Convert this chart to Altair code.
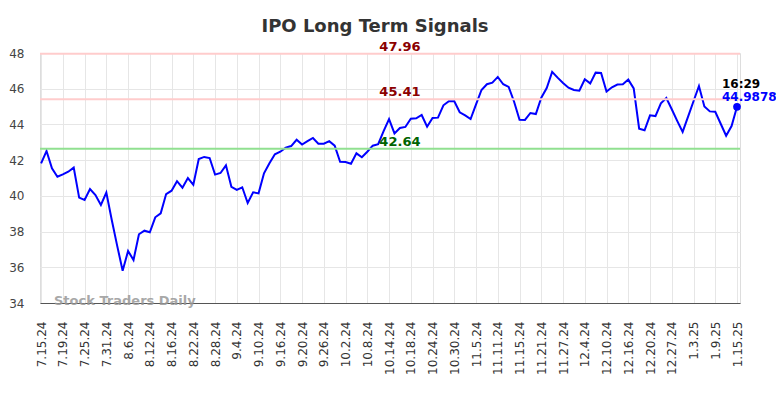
import altair as alt
import pandas as pd

date_labels = ["7.15.24", "7.19.24", "7.25.24", "7.31.24", "8.6.24", "8.12.24", "8.16.24",
               "8.22.24", "8.28.24", "9.4.24", "9.10.24", "9.16.24", "9.20.24", "9.26.24",
               "10.2.24", "10.8.24", "10.14.24", "10.18.24", "10.24.24", "10.30.24", "11.5.24",
               "11.11.24", "11.15.24", "11.21.24", "11.27.24", "12.4.24", "12.10.24", "12.16.24",
               "12.20.24", "12.27.24", "1.3.25", "1.9.25", "1.15.25"]

prices = [41.82, 42.51, 41.54, 41.07, 41.20, 41.35, 41.58, 39.90, 39.77, 40.38,
          40.05, 39.49, 40.18, 38.65, 37.20, 35.81, 36.91, 36.41, 37.85, 38.05,
          37.96, 38.80, 39.02, 40.10, 40.29, 40.82, 40.46, 41.00, 40.62, 42.06,
          42.18, 42.12, 41.19, 41.28, 41.71, 40.51, 40.33, 40.48, 39.60, 40.20,
          40.14, 41.26, 41.82, 42.33, 42.47, 42.70, 42.79, 43.14, 42.87, 43.06,
          43.24, 42.92, 42.92, 43.06, 42.81, 41.91, 41.90, 41.80, 42.38, 42.16,
          42.47, 42.81, 42.89, 43.62, 44.30, 43.50, 43.80, 43.86, 44.32, 44.34,
          44.53, 43.87, 44.36, 44.38, 45.07, 45.30, 45.30, 44.68, 44.51, 44.30,
          45.12, 45.93, 46.25, 46.34, 46.66, 46.25, 46.10, 45.27, 44.26, 44.25,
          44.64, 44.58, 45.50, 46.04, 46.94, 46.62, 46.32, 46.06, 45.93, 45.89,
          46.53, 46.30, 46.90, 46.88, 45.84, 46.08, 46.23, 46.25, 46.51, 46.02,
          43.76, 43.67, 44.51, 44.47, 45.18, 45.48, 44.85, 44.20, 43.58, 44.44,
          45.30, 46.15, 45.01, 44.73, 44.71, 44.04, 43.37, 43.91, 44.9878]

signal_values = [47.96, 45.41, 42.64]
signal_labels = ["47.96", "45.41", "42.64"]
signal_line_colors = ["#ffcccc", "#ffcccc", "#90e090"]
signal_text_colors = ["#8b0000", "#8b0000", "#006400"]

last_time = "16:29"
last_label = "44.9878"

FONT = "DejaVu Sans"

df = pd.DataFrame({"i": list(range(len(prices))), "price": prices})
sig = pd.DataFrame({"v": signal_values, "label": signal_labels,
                    "lc": signal_line_colors, "tc": signal_text_colors,
                    "xi": [66] * len(signal_values)})
last = df.tail(1).assign(t=last_time, lab=last_label)

label_arr = "[" + ",".join("'" + d + "'" for d in date_labels) + "]"
tick_vals = [4 * k for k in range(len(date_labels))]

x_scale = alt.Scale(domain=[-0.2, 128.55], nice=False, zero=False)
y_scale = alt.Scale(domain=[34, 48], nice=False, zero=False)

x_axis = alt.Axis(values=tick_vals, labelExpr=label_arr + "[round(datum.value/4)]",
                  labelAngle=-90, labelFont=FONT, labelFontSize=12, labelColor="#333",
                  ticks=False, tickSize=0, labelPadding=18, grid=True, gridColor="#e6e6e6",
                  domain=True, domainColor="#555", domainWidth=1.2, title=None,
                  labelOverlap=False)
y_axis = alt.Axis(values=[34, 36, 38, 40, 42, 44, 46, 48], labelFont=FONT, labelFontSize=12,
                  labelColor="#444", ticks=False, tickSize=0, labelPadding=16, grid=True,
                  gridColor="#e6e6e6", domain=False, title=None, labelOverlap=False)

X = lambda f: alt.X(f, scale=x_scale, axis=x_axis)
Y = lambda f: alt.Y(f, scale=y_scale, axis=y_axis)

base = alt.Chart(df)

rules = alt.Chart(sig).mark_rule(strokeWidth=2).encode(
    y=Y("v:Q"),
    color=alt.Color("lc:N", scale=None),
)

sig_text = alt.Chart(sig).mark_text(font=FONT, fontSize=13, fontWeight="bold",
                                    align="center", baseline="alphabetic", dy=-3).encode(
    x=X("xi:Q"),
    y=Y("v:Q"),
    text="label:N",
    color=alt.Color("tc:N", scale=None),
)

line = base.mark_line(color="#0000ff", strokeWidth=2).encode(
    x=X("i:Q"),
    y=Y("price:Q"),
)

dot = alt.Chart(last).mark_circle(color="#0000ff", size=60, opacity=1).encode(
    x=X("i:Q"),
    y=Y("price:Q"),
)

t_time = alt.Chart(last).mark_text(font=FONT, fontSize=12, fontWeight="bold", color="#000",
                                   align="left", baseline="alphabetic", dx=-15, dy=-19).encode(
    x=X("i:Q"),
    y=Y("price:Q"),
    text="t:N",
)
t_val = alt.Chart(last).mark_text(font=FONT, fontSize=12, fontWeight="bold", color="#0000ff",
                                  align="left", baseline="alphabetic", dx=-15, dy=-6).encode(
    x=X("i:Q"),
    y=Y("price:Q"),
    text="lab:N",
)

watermark = alt.Chart(pd.DataFrame({"w": ["Stock Traders Daily"]})).mark_text(
    font=FONT, fontSize=13, fontWeight="bold", color="#999999", opacity=0.85,
    align="left", baseline="alphabetic").encode(
    x=alt.value(14), y=alt.value(252), text="w:N")

chart = alt.layer(line, rules, sig_text, dot, t_time, t_val, watermark).properties(
    width=700, height=250,
    title=alt.TitleParams("IPO Long Term Signals", font=FONT, fontSize=18, fontWeight="bold",
                          color="#333", anchor="middle", dx=-15, offset=5),
    autosize=alt.AutoSizeParams(type="none"),
    padding={"left": 32, "top": 45, "right": 36, "bottom": 87},
).configure_view(stroke=None).configure_axis(labelOverlap=False).configure(background="white")

chart.save("out.html", embed_options={"renderer": "svg", "actions": False})
